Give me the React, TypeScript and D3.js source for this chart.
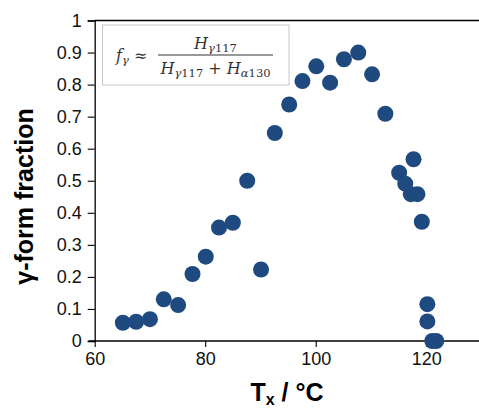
import { useEffect, useRef } from 'react';
import * as d3 from 'd3';

// Crystallization temperature (°C) vs γ-form fraction
const tempC = [
  65.1, 67.5, 70.0, 72.5, 75.1, 77.7, 80.1, 82.5, 85.0, 87.6, 90.1,
  92.6, 95.2, 97.6, 100.1, 102.6, 105.1, 107.7, 110.2, 112.6,
  115.1, 116.2, 117.2, 117.7, 118.4, 119.2, 120.2, 120.2, 121.1, 121.8,
];
const gammaFraction = [
  0.057, 0.06, 0.068, 0.13, 0.112, 0.209, 0.263, 0.354, 0.369, 0.5, 0.223,
  0.649, 0.738, 0.811, 0.857, 0.806, 0.879, 0.9, 0.832, 0.709,
  0.525, 0.491, 0.458, 0.567, 0.458, 0.372, 0.115, 0.061, 0.0, 0.0,
];
const xTicks = [60, 80, 100, 120];
const yTicks = [0, 0.1, 0.2, 0.3, 0.4, 0.5, 0.6, 0.7, 0.8, 0.9, 1];

export default function App() {
  const svgRef = useRef<SVGSVGElement | null>(null);

  useEffect(() => {
    if (!svgRef.current) return;
    const svg = d3.select(svgRef.current);
    svg.selectAll('*').remove();

    const W = 479;
    const H = 410;
    const left = 94.7;
    const top = 20.5;
    const bottom = 341;
    const right = 481.5;

    const x = d3.scaleLinear().domain([60, 130]).range([left, right]);
    const y = d3.scaleLinear().domain([0, 1]).range([bottom, top]);

    svg.attr('width', W).attr('height', H);
    svg.append('rect').attr('width', W).attr('height', H).attr('fill', '#fff');

    const font = "Arial, 'Liberation Sans', sans-serif";

    // plot frame: top & right border
    svg.append('path')
      .attr('d', `M${left},${top}H${right}V${bottom}`)
      .attr('fill', 'none')
      .attr('stroke', '#000')
      .attr('stroke-width', 1.3);

    // y axis
    const yAxis = svg.append('g')
      .attr('transform', `translate(${left},0)`)
      .call(d3.axisLeft(y).tickValues(yTicks).tickSize(7).tickPadding(6)
        .tickFormat(d => d3.format('~g')(d as number)));
    yAxis.select('.domain').attr('stroke-width', 1.3);
    yAxis.selectAll('.tick line').attr('stroke-width', 1.1);
    yAxis.selectAll('text')
      .attr('font-family', font)
      .attr('font-size', 18)
      .attr('fill', '#111');

    // x axis
    const xAxis = svg.append('g')
      .attr('transform', `translate(0,${bottom})`)
      .call(d3.axisBottom(x).tickValues(xTicks).tickSize(6).tickSizeOuter(0).tickPadding(5));
    xAxis.select('.domain').attr('stroke-width', 1.3)
      .attr('d', `M${left - 6},0H${right}`);
    xAxis.selectAll('.tick line').attr('stroke-width', 1.1);
    xAxis.selectAll('text')
      .attr('font-family', font)
      .attr('font-size', 18)
      .attr('fill', '#111');

    // points
    const pts = tempC.map((t, i) => ({ t, f: gammaFraction[i] }));
    svg.append('g')
      .selectAll('circle')
      .data(pts)
      .join('circle')
      .attr('cx', d => x(d.t))
      .attr('cy', d => y(d.f))
      .attr('r', 8)
      .attr('fill', '#1f4a80');

    // axis titles
    svg.append('text')
      .attr('transform', 'translate(33,196.5) rotate(-90)')
      .attr('text-anchor', 'middle')
      .attr('font-family', font)
      .attr('font-weight', 'bold')
      .attr('font-size', 25)
      .text('γ-form fraction');

    const xt = svg.append('text')
      .attr('x', 287)
      .attr('y', 401)
      .attr('text-anchor', 'middle')
      .attr('font-family', font)
      .attr('font-weight', 'bold')
      .attr('font-size', 25);
    xt.append('tspan').text('T');
    xt.append('tspan').attr('font-size', 16).attr('dy', 4).text('x');
    xt.append('tspan').attr('dy', -4).text(' / °C');

    // formula box
    const box = svg.append('g');
    box.append('rect')
      .attr('x', 102.5).attr('y', 25)
      .attr('width', 186.5).attr('height', 60)
      .attr('fill', '#fff')
      .attr('stroke', '#c8c8c8')
      .attr('stroke-width', 1);

    const serif = "'DejaVu Serif', 'Liberation Serif', serif";
    const fs = 16;
    const ss = 11.5;

    const ft = box.append('text')
      .attr('x', 116).attr('y', 61)
      .attr('font-family', serif)
      .attr('font-size', fs)
      .attr('fill', '#333');
    ft.append('tspan').attr('font-style', 'italic').text('f');
    ft.append('tspan').attr('font-size', ss).attr('font-style', 'italic').attr('dy', 3).text('γ');
    ft.append('tspan').attr('dy', -3).text(' ≈');

    const num = box.append('text')
      .attr('x', 215.5).attr('y', 49)
      .attr('text-anchor', 'middle')
      .attr('font-family', serif)
      .attr('font-size', fs)
      .attr('fill', '#333');
    num.append('tspan').attr('font-style', 'italic').text('H');
    num.append('tspan').attr('font-size', ss).attr('font-style', 'italic').attr('dy', 3).text('γ');
    num.append('tspan').attr('font-size', ss).text('117');

    box.append('line')
      .attr('x1', 158).attr('x2', 273)
      .attr('y1', 55).attr('y2', 55)
      .attr('stroke', '#333').attr('stroke-width', 1);

    const den = box.append('text')
      .attr('x', 215.5).attr('y', 74)
      .attr('text-anchor', 'middle')
      .attr('font-family', serif)
      .attr('font-size', fs)
      .attr('fill', '#333');
    den.append('tspan').attr('font-style', 'italic').text('H');
    den.append('tspan').attr('font-size', ss).attr('font-style', 'italic').attr('dy', 3).text('γ');
    den.append('tspan').attr('font-size', ss).text('117');
    den.append('tspan').attr('dy', -3).text(' + ');
    den.append('tspan').attr('font-style', 'italic').text('H');
    den.append('tspan').attr('font-size', ss).attr('font-style', 'italic').attr('dy', 3).text('α');
    den.append('tspan').attr('font-size', ss).text('130');
  }, []);

  return (
    <svg
      ref={svgRef}
      style={{ position: 'absolute', left: 0, top: 0, display: 'block' }}
    />
  );
}
